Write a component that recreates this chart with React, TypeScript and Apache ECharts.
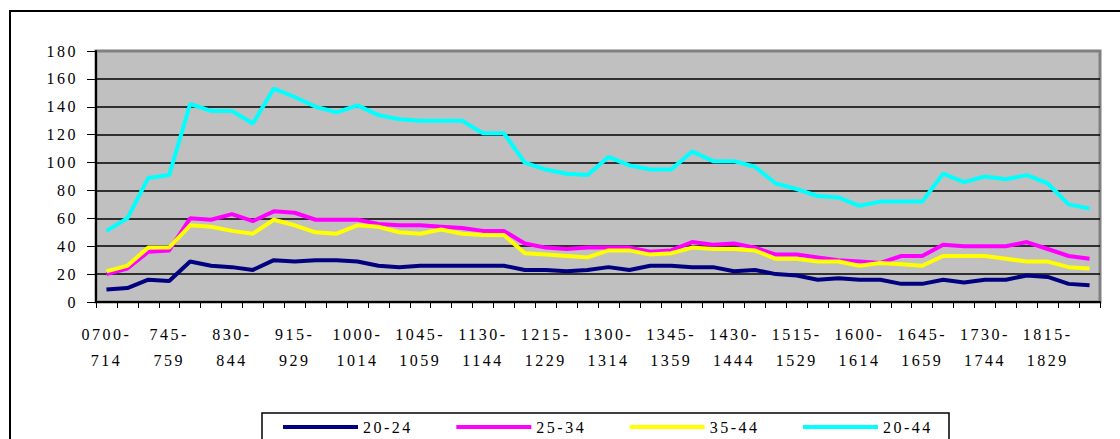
import { useEffect, useRef } from "react";
import * as echarts from "echarts";

const categories = [
  "0700-714", "715-729", "730-744", "745-759",
  "800-814", "815-829", "830-844", "845-859",
  "900-914", "915-929", "930-944", "945-959",
  "1000-1014", "1015-1029", "1030-1044", "1045-1059",
  "1100-1114", "1115-1129", "1130-1144", "1145-1159",
  "1200-1214", "1215-1229", "1230-1244", "1245-1259",
  "1300-1314", "1315-1329", "1330-1344", "1345-1359",
  "1400-1414", "1415-1429", "1430-1444", "1445-1459",
  "1500-1514", "1515-1529", "1530-1544", "1545-1559",
  "1600-1614", "1615-1629", "1630-1644", "1645-1659",
  "1700-1714", "1715-1729", "1730-1744", "1745-1759",
  "1800-1814", "1815-1829", "1830-1844", "1845-1859",
];

const age20to24 = [
  9, 10, 16, 15, 29, 26, 25, 23, 30, 29, 30, 30,
  29, 26, 25, 26, 26, 26, 26, 26, 23, 23, 22, 23,
  25, 23, 26, 26, 25, 25, 22, 23, 20, 19, 16, 17,
  16, 16, 13, 13, 16, 14, 16, 16, 19, 18, 13, 12,
];
const age25to34 = [
  20, 24, 36, 37, 60, 59, 63, 58, 65, 64, 59, 59,
  59, 56, 55, 55, 54, 53, 51, 51, 42, 39, 38, 39,
  39, 39, 36, 37, 43, 41, 42, 39, 34, 34, 32, 30,
  29, 28, 33, 33, 41, 40, 40, 40, 43, 38, 33, 31,
];
const age35to44 = [
  22, 26, 39, 39, 55, 54, 51, 49, 59, 55, 50, 49,
  55, 54, 50, 49, 52, 49, 48, 48, 35, 34, 33, 32,
  37, 37, 34, 35, 39, 38, 38, 37, 31, 31, 29, 29,
  26, 28, 27, 26, 33, 33, 33, 31, 29, 29, 25, 24,
];
const age20to44 = [
  51, 60, 89, 91, 142, 137, 137, 128, 153, 147, 140, 136,
  141, 134, 131, 130, 130, 130, 121, 121, 100, 95, 92, 91,
  104, 98, 95, 95, 108, 101, 101, 97, 85, 81, 76, 75,
  69, 72, 72, 72, 92, 86, 90, 88, 91, 85, 70, 67,
];

const seriesNames = ["20-24", "25-34", "35-44", "20-44"];
const seriesColors = ["#000080", "#FF00FF", "#FFFF00", "#00FFFF"];
const seriesData = [age20to24, age25to34, age35to44, age20to44];

const FONT = "Liberation Serif";

export default function App() {
  const ref = useRef<HTMLDivElement>(null);
  useEffect(() => {
    const chart = echarts.init(ref.current!, null, { renderer: "svg" });
    const spaceLetters = () => {
      ref.current?.querySelectorAll("text").forEach((t) => t.setAttribute("letter-spacing", "2.5"));
    };
    chart.on("finished", spaceLetters);
    chart.setOption({
      animation: false,
      backgroundColor: "#ffffff",
      textStyle: { fontFamily: FONT },
      graphic: [
        {
          type: "rect",
          z: 0,
          shape: { x: 10, y: 11, width: 1300, height: 700 },
          style: { fill: "none", stroke: "#000", lineWidth: 2 },
        },
        {
          type: "rect",
          z: 1,
          shape: { x: 262, y: 413, width: 687, height: 60 },
          style: { fill: "#fff", stroke: "#000", lineWidth: 1.5 },
        },
      ],
      grid: {
        left: 96,
        top: 51,
        right: 20,
        bottom: 137,
        show: true,
        backgroundColor: "#C0C0C0",
        borderColor: "#808080",
        borderWidth: 3,
        outerBoundsMode: "none",
      },
      legend: {
        z: 10,
        left: 283,
        top: 419,
        padding: 0,
        icon: "rect",
        itemWidth: 75,
        itemHeight: 4,
        itemGap: 56,
        textStyle: { fontFamily: FONT, fontSize: 16, color: "#000", lineHeight: 16 },
        data: seriesNames,
      },
      xAxis: {
        type: "category",
        data: categories,
        boundaryGap: true,
        axisLine: { show: true, lineStyle: { color: "#000", width: 2 } },
        axisTick: { show: true, interval: 0, length: 6, lineStyle: { color: "#000", width: 1 } },
        axisLabel: {
          interval: 2,
          margin: 19,
          fontFamily: FONT,
          fontSize: 16,
          lineHeight: 26,
          color: "#000",
          formatter: (v: string) => v.replace("-", "-\n"),
        },
        splitLine: { show: false },
      },
      yAxis: {
        type: "value",
        min: 0,
        max: 180,
        interval: 20,
        axisLine: { show: true, lineStyle: { color: "#000", width: 2 } },
        axisTick: { show: true, length: 9, lineStyle: { color: "#000", width: 1 } },
        axisLabel: { margin: 18, fontFamily: FONT, fontSize: 16, color: "#000" },
        splitLine: { show: true, showMaxLine: false, lineStyle: { color: "#000", width: 1.5 } },
      },
      series: seriesNames.map((name, i) => ({
        name,
        type: "line",
        data: seriesData[i],
        symbol: "none",
        showSymbol: false,
        color: seriesColors[i],
        itemStyle: { color: seriesColors[i] },
        lineStyle: { color: seriesColors[i], width: 4 },
      })),
    });
    spaceLetters();
    return () => chart.dispose();
  }, []);
  return (
    <div
      ref={ref}
      style={{ position: "fixed", left: 0, top: 0, width: 1120, height: 439, background: "#fff" }}
    />
  );
}
